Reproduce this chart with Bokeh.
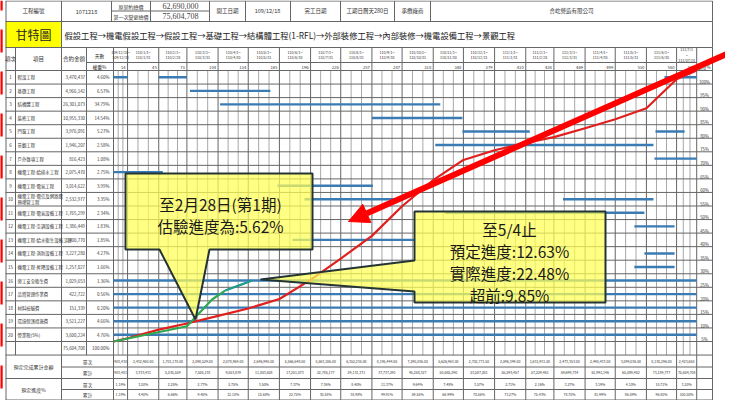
from bokeh.plotting import figure
from bokeh.models import Range1d, ColumnDataSource, Arrow, NormalHead
from bokeh.core.properties import value
from bokeh.embed import file_html
from bokeh.resources import INLINE

# ---------------- data ----------------
project_no = "1071218"
price_labels = ["原契約總價", "第一次變更總價"]
price_values = ["62,690,000", "75,604,708"]
start_label, start_date = "開工日期", "109/12/18"
finish_label, duration_text = "完工日期", "工期日曆天280日"
contractor_label, contractor = "承攬廠商", "合屹營造有限公司"
work_sequence = "假設工程→機電假設工程→假設工程→基礎工程→結構體工程(1-RFL)→外部裝修工程→內部裝修→機電設備工程→景觀工程"

task_names = ["假設工程", "基礎工程", "結構體工程", "裝修工程", "門窗工程", "景觀工程",
              "戶外雜項工程", "機電工程-給排水工程", "機電工程-電氣工程",
              "機電工程-電信及網路電\n預埋管工程", "機電工程-電氣設備工程",
              "機電工程-空調設備工程", "機電工程-給水衛生設備工程", "機電工程-消防設備工程",
              "機電工程-昇降設備工程", "勞工安全衛生費", "品質管理作業費", "材料檢驗費",
              "環境保護措施費", "營業稅(5%)"]
task_amounts = ["3,470,437", "4,966,142", "26,301,073", "10,955,330", "3,976,091", "1,946,207",
                "816,423", "2,075,470", "3,014,622", "2,532,977", "1,765,299", "1,386,449",
                "1,400,770", "3,227,280", "1,257,027", "1,029,653", "422,722", "151,339",
                "3,521,227", "3,600,224"]
task_weights = ["4.60%", "6.57%", "34.79%", "14.54%", "5.27%", "2.58%", "1.08%", "2.75%",
                "3.99%", "3.35%", "2.34%", "1.83%", "1.85%", "4.27%", "1.66%", "1.36%",
                "0.56%", "0.20%", "4.66%", "4.76%"]
total_amount, total_weight = "75,604,708", "100.00%"

period_labels = ["109/12/18~\n109/12/31", "110/1/1~\n110/1/31", "110/2/1~\n110/2/28",
                 "110/3/1~\n110/3/31", "110/4/1~\n110/4/30", "110/5/1~\n110/5/31",
                 "110/6/1~\n110/6/30", "110/7/1~\n110/7/31", "110/8/1~\n110/8/31",
                 "110/9/1~\n110/9/30", "110/10/1~\n110/10/31", "110/11/1~\n110/11/30",
                 "110/12/1~\n110/12/31", "111/1/1~\n111/1/31", "111/2/1~\n111/2/28",
                 "111/3/1~\n111/3/31", "111/4/1~\n111/4/30", "111/5/1~\n111/5/31",
                 "111/6/1~\n111/6/30", "111/7/1\n~\n111/07/20"]
period_end_days = [14, 45, 73, 104, 134, 165, 196, 226, 257, 287, 318, 348, 379, 410,
                   438, 469, 499, 530, 560, 580]

bar_rows = [1, 1, 1, 2, 3, 4, 5, 5, 6, 7, 8, 9, 10, 10, 11, 12, 13, 14, 15,
            16, 17, 18, 19, 20]
bar_start_days = [0, 45, 548, 76, 106, 257, 347, 539, 320, 538, 0, 163, 190, 447, 330,
                  518, 178, 528, 518, 0, 0, 0, 0, 0]
bar_end_days = [14, 73, 580, 156, 325, 347, 414, 568, 537, 580, 49, 258, 281, 537, 528,
                558, 300, 558, 558, 580, 580, 580, 580, 580]

plan_single_amount = ["903,430", "2,432,950.00", "1,701,178.00", "2,098,529.00",
                      "2,078,959.00", "2,646,990.00", "5,566,648.00", "5,563,106.00",
                      "6,352,235.00", "8,195,444.00", "7,290,036.00", "5,626,963.00",
                      "2,702,771.50", "2,046,349.00", "1,631,931.00", "2,473,353.00",
                      "2,490,433.00", "3,099,036.00", "8,130,296.00", "2,423,650"]
plan_cum_amount = ["903,481", "3,333,431", "5,035,559", "7,526,138", "9,553,839",
                   "11,853,628", "17,251,073", "22,785,177", "29,131,371", "37,737,291",
                   "45,258,327", "50,685,290", "53,587,001", "55,593,457", "57,224,461",
                   "59,699,734", "61,991,146", "65,089,402", "73,189,777", "75,604,708"]
plan_single_pct = ["1.19%", "3.20%", "2.25%", "2.77%", "2.75%", "3.50%", "7.37%", "7.36%",
                   "8.40%", "11.37%", "9.64%", "7.48%", "3.57%", "2.71%", "2.16%", "3.27%",
                   "3.19%", "4.10%", "10.71%", "3.20%"]
plan_cum_pct = [1.19, 4.40, 6.66, 9.45, 12.18, 15.68, 22.75, 30.58, 38.98, 49.91, 59.55,
                66.99, 70.56, 73.27, 75.43, 78.70, 81.99, 86.09, 96.80, 100.00]

actual_days = [0, 73, 98, 111, 125, 138]
actual_pct = [0, 5.62, 15.5, 18.8, 20.7, 22.48]

pct_labels = ["100%", "95%", "90%", "85%", "80%", "75%", "70%", "65%", "60%", "55%",
              "50%", "45%", "40%", "35%", "30%", "25%", "20%", "15%", "10%", "5%"]

note1 = ["至2月28日(第1期)", "估驗進度為:5.62%"]
note2 = ["至5/4止", "預定進度:12.63%", "實際進度:22.48%", "超前:9.85%"]

# ---------------- geometry (pixels of the page) ----------------
FX0, FX1, FY0, FY1 = 8, 733, 8, 408
X0, XS = 121.0, 1.0055          # day 0 position, px per day
Y0, YS = 349.0, 2.71            # 0% position, px per percent
ROW_TOP, ROW_H = 78.0, 13.55
TL, TR = 13, 720
CJK = "Noto Sans CJK TC"
SERIF = "Liberation Serif"
LINE = "#666666"
GRID = "#a8a8a8"

p = figure(width=FX1 - FX0, height=FY1 - FY0, output_backend="svg", toolbar_location=None,
           x_range=Range1d(FX0, FX1), y_range=Range1d(FY1, FY0),
           x_axis_type=None, y_axis_type=None, min_border=0,
           background_fill_color="white", border_fill_color="white")
p.outline_line_color = None
p.grid.visible = False
p.extra_x_ranges = {"days": Range1d((FX0 - X0) / XS, (FX1 - X0) / XS)}
p.extra_y_ranges = {
    "pct": Range1d((Y0 - FY1) / YS, (Y0 - FY0) / YS),
    "row": Range1d((FY1 - ROW_TOP) / ROW_H + 0.5, (FY0 - ROW_TOP) / ROW_H + 0.5),
}


def texts(xs, ys, ts, size, font=CJK, align="center", baseline="middle", color="#333333",
          xr="default", yr="default", style="normal", lh=1.1):
    src = ColumnDataSource(dict(x=list(xs), y=list(ys), t=list(ts)))
    p.text(x="x", y="y", text="t", source=src, text_font=value(font),
           text_font_size=value(f"{size}px"), text_align=align, text_baseline=baseline,
           text_color=color, text_font_style=style, text_line_height=lh,
           x_range_name=xr, y_range_name=yr)


def hlines(ys, x0, x1, color=LINE, w=1.0, xr="default", yr="default"):
    ys = list(ys)
    p.segment(x0=[x0] * len(ys), x1=[x1] * len(ys), y0=ys, y1=ys, line_color=color,
              line_width=w, x_range_name=xr, y_range_name=yr)


def vlines(xs, y0, y1, color=LINE, w=1.0, xr="default", yr="default"):
    xs = list(xs)
    p.segment(x0=xs, x1=xs, y0=[y0] * len(xs), y1=[y1] * len(xs), line_color=color,
              line_width=w, x_range_name=xr, y_range_name=yr)


boundaries = [0] + period_end_days
n_rows = len(task_names)
row_lines = [ROW_TOP + k * ROW_H for k in range(n_rows + 2)]
TOTAL_BOTTOM = row_lines[-1]
BOT = [TOTAL_BOTTOM, 374.5, 386.0, 397.0, 407.5]

# ---------------- top header ----------------
p.quad(left=TL, right=69, top=29, bottom=55, fill_color="#ffff00", line_color=None)
hlines([8.5, 29, 55], TL, TR)
hlines([18.5], 119, 217)
vlines([TL + 0.5, 69, 119, 158, 217, 253, 298, 348, 402, 438, TR], 8.5, 29)
vlines([TL + 0.5, 69, TR], 29, 55)
texts([41, 94, 235, 275, 323, 375, 420, 579],
      [18.5] * 8,
      ["工程編號", project_no, start_label, start_date, finish_label, duration_text,
       contractor_label, contractor], 5.5)
texts([138.5, 138.5], [13.5, 23.8], price_labels, 5)
texts([188, 188], [13.5, 23.8], price_values, 8, font=SERIF, color="#444444")
texts([41], [42], ["甘特圖"], 12, color="#222222")
texts([72], [42.5], [work_sequence], 8.3, align="left", color="#222222")

# ---------------- gantt header ----------------
vlines([TL + 0.5, 23, 69, 94, TR], 55, TOTAL_BOTTOM)
hlines([70], 94, 704.5)
vlines(boundaries, 55, TOTAL_BOTTOM, xr="days")
texts([18, 46, 81.5], [66.5] * 3, ["項次", "項目", "合約金額"], 5.5)
texts([107, 107], [62.5, 74], ["天數", "權重%"], 4.8)
mids = [(a + b) / 2 for a, b in zip(boundaries[:-1], boundaries[1:])]
texts(mids, [62.5] * len(mids), period_labels, 3.6, xr="days", lh=1.15)
texts([d - 2 for d in period_end_days], [74.3] * len(period_end_days),
      [str(d) for d in period_end_days], 4.2, align="right", xr="days")
texts([712], [74.3], ["進度%"], 4.2)

# sub-period grid lines
subs = []
for a, b in zip(boundaries[:-1], boundaries[1:]):
    subs += [a + (b - a) / 3, a + 2 * (b - a) / 3]
vlines(subs, ROW_TOP, TOTAL_BOTTOM, color=GRID, xr="days")
hlines(row_lines, TL, TR)

# ---------------- task table ----------------
idx = list(range(1, n_rows + 1))
texts([18] * n_rows, idx, [str(i) for i in idx], 4.5, yr="row")
texts([25] * n_rows, idx, task_names, 4.4, align="left", yr="row", lh=1.0)
texts([92.5] * n_rows, idx, task_amounts, 4.4, align="right", yr="row")
texts([117] * n_rows, idx, task_weights, 4.4, align="right", yr="row")
texts([92.5, 117], [n_rows + 1] * 2, [total_amount, total_weight], 4.4, align="right",
      yr="row")
texts([712] * n_rows, [r + 0.33 for r in idx], pct_labels, 4.3, yr="row")

# ---------------- bottom table ----------------
hlines([BOT[2], BOT[4]], TL, TR)
hlines([BOT[1], BOT[3]], 69, TR)
vlines([TL + 0.5, 69, TR], BOT[0], BOT[4])
vlines(boundaries, BOT[0], BOT[4], xr="days")
texts([41, 41], [(BOT[0] + BOT[2]) / 2, (BOT[2] + BOT[4]) / 2], ["預定完成累計金額", "預定進度%"], 5)
sub_y = [(BOT[i] + BOT[i + 1]) / 2 for i in range(4)]
texts([95] * 4, sub_y, ["單次", "累計", "單次", "累計"], 4.8)
for vals, yy in zip([plan_single_amount, plan_cum_amount, plan_single_pct,
                     [f"{v:.2f}%" for v in plan_cum_pct]], sub_y):
    texts(mids, [yy] * len(mids), vals, 3.5, xr="days")

# ---------------- gantt bars & curves ----------------
p.segment(x0=bar_start_days, x1=bar_end_days, y0=bar_rows, y1=bar_rows,
          x_range_name="days", y_range_name="row", line_color="#3a7bb4", line_width=2.4)
p.line(x=boundaries, y=[0] + plan_cum_pct, x_range_name="days", y_range_name="pct",
       line_color="#e0201e", line_width=2.2, line_join="round")
p.line(x=actual_days[:4], y=actual_pct[:4], x_range_name="days", y_range_name="pct",
       line_color="#2fa84f", line_width=2.2, line_join="round")
p.line(x=actual_days[3:], y=actual_pct[3:], x_range_name="days", y_range_name="pct",
       line_color="#1f9a8c", line_width=2.2, line_join="round")

# ---------------- callouts ----------------
c1x = [133, 320, 320, 217, 203, 167, 133]
c1y = [181, 181, 257, 257, 327, 257, 257]
p.patch(c1x, c1y, fill_color="#ffff55", fill_alpha=0.72, line_color="#243434", line_width=2)
texts([228, 228], [211, 233], note1, 15.5, color="#1a1a1a")
c2x = [422, 613, 613, 422, 422, 268, 422]
c2y = [219, 219, 310, 310, 299, 287, 268]
p.patch(c2x, c2y, fill_color="#ffff55", fill_alpha=0.72, line_color="#243434", line_width=2)
texts([517, 517, 517, 517], [236, 258, 280, 302], note2, 15.5, color="#1a1a1a")

# ---------------- red arrow ----------------
p.add_layout(Arrow(end=NormalHead(size=20, fill_color="#ff0000", line_color="#ff0000"),
                   x_start=760, y_start=50, x_end=356, y_end=229,
                   line_color="#ff0000", line_width=6))

# ---------------- red dashed frame ----------------
p.line(x=[8.6, 8.6], y=[FY0, FY1], line_color="#ff0000", line_width=3.2,
       line_dash="23 19", line_dash_offset=13)

open("out.html", "w").write(file_html(p, INLINE))
